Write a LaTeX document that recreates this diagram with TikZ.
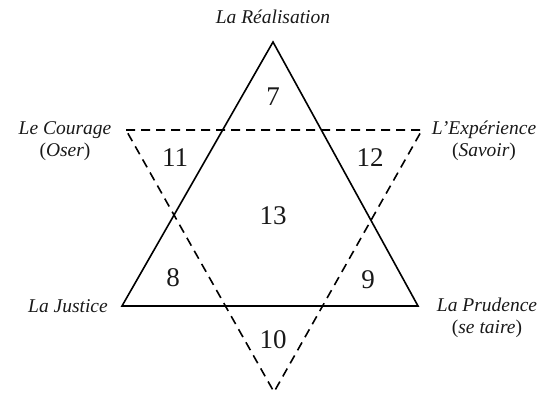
\documentclass[tikz,border=0pt]{standalone}
\usepackage{fontspec}
\setmainfont{Liberation Serif}
\usepackage{tikz}
\usetikzlibrary{positioning, calc}

\begin{document}
\begin{tikzpicture}[x=1pt, y=1pt]
                        \tikzset{
                            virtue label/.style={
                                    font=\fontsize{19.5}{22}\selectfont\itshape, text=black!90, align=center, inner sep=0pt
                                },
                            field number/.style={
                                    font=\fontsize{27}{30}\selectfont,
                                    text=black!90,
                                    anchor=center,
                                    inner sep=0pt
                                },
                            solid side/.style={line width=1.6pt, line join=miter},
                            dashed side/.style={line width=1.6pt, dash pattern=on 9pt off 6pt}
                        }
                        \useasboundingbox (0, 0) rectangle (549, 398);

                        % corners of the two triangles
                        \coordinate (top) at (273, 356);
                        \coordinate (left) at (122, 92);
                        \coordinate (right) at (418, 92);
                        \coordinate (dleft) at (126, 268);
                        \coordinate (dright) at (422, 268);
                        \coordinate (bottom) at (274, 6);

                        \draw[solid side] (top) -- (left) -- (right) -- cycle;
                        \draw[dashed side] (dleft) -- (dright) -- (bottom) -- cycle;

                        % virtues
                        \node[virtue label] (realisation) at (273, 381) {La Réalisation};
                        \node[virtue label] (courage) at (65, 257) {Le Courage\\{\upshape(}Oser{\upshape)}};
                        \node[virtue label] (experience) at (484, 257) {L'Expérience\\{\upshape(}Savoir{\upshape)}};
                        \node[virtue label, anchor=east] (justice) at (108, 92) {La Justice};
                        \node[virtue label] (prudence) at (487, 80) {La Prudence\\{\upshape(}se taire{\upshape)}};

                        % fields
                        \node[field number] (f7) at (273, 301) {7};
                        \node[field number] (f11) at (175, 240) {11};
                        \node[field number] (f12) at (370, 240) {12};
                        \node[field number] (f13) at (273, 182) {13};
                        \node[field number] (f8) at (173, 120) {8};
                        \node[field number] (f9) at (368, 118) {9};
                        \node[field number] (f10) at (273, 58) {10};
                    \end{tikzpicture}
\end{document}
